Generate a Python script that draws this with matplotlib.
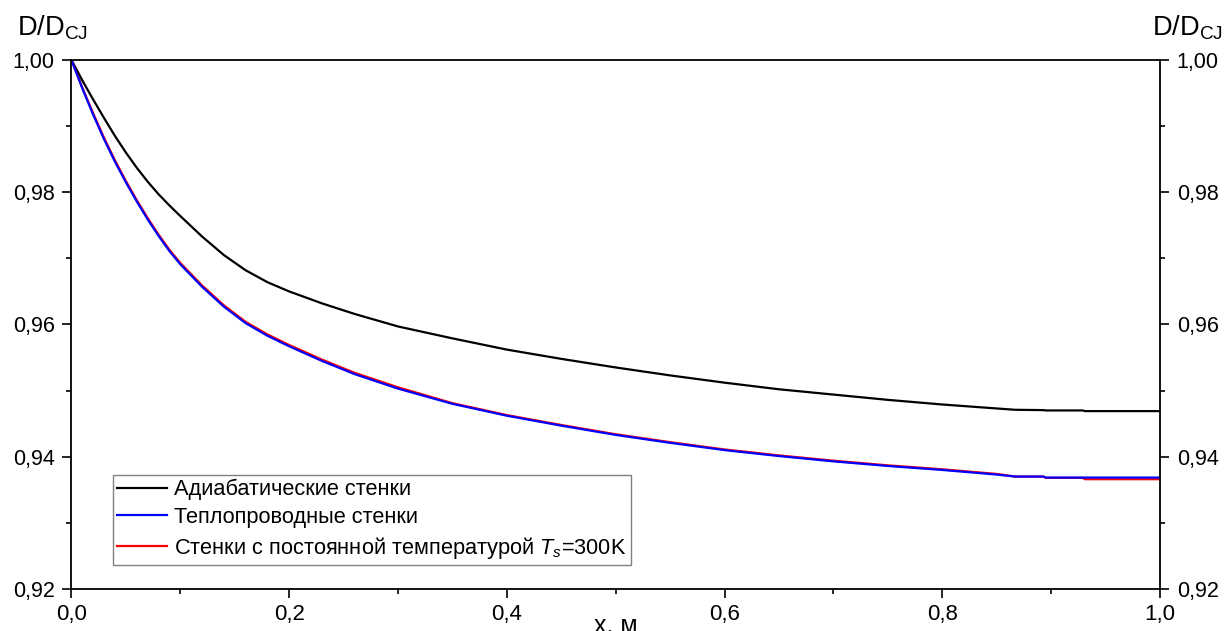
import matplotlib.pyplot as plt
from matplotlib.ticker import MultipleLocator, FuncFormatter

plt.rcParams['font.family'] = ['Liberation Sans', 'DejaVu Sans']
plt.rcParams['mathtext.fontset'] = 'custom'
plt.rcParams['mathtext.rm'] = 'Liberation Sans'
plt.rcParams['mathtext.it'] = 'Liberation Sans:italic'

# x, m
x = [0, 0.01, 0.02, 0.03, 0.04, 0.05, 0.06, 0.07, 0.08, 0.09, 0.10, 0.12,
     0.14, 0.16, 0.18, 0.20, 0.23, 0.26, 0.30, 0.35, 0.4, 0.45, 0.5, 0.55,
     0.6, 0.65, 0.7, 0.75, 0.8, 0.85, 0.867, 0.893, 0.895, 0.929, 0.931, 1.0]

adiabatic = [1.0, 0.9969, 0.9940, 0.9912, 0.9885, 0.9860, 0.9837, 0.9816,
             0.9797, 0.9780, 0.9764, 0.9733, 0.9705, 0.9682, 0.9664, 0.9650,
             0.9632, 0.9616, 0.9597, 0.9579, 0.9562, 0.9548, 0.9535, 0.9523,
             0.9512, 0.9502, 0.9494, 0.9486, 0.9479, 0.9473, 0.94710, 0.94705,
             0.94700, 0.94700, 0.94690, 0.94690]

conductive = [1.0, 0.9957, 0.9917, 0.9880, 0.9846, 0.9815, 0.9786, 0.9759,
              0.9734, 0.9711, 0.9691, 0.9657, 0.9627, 0.9602, 0.9583, 0.9567,
              0.9545, 0.9525, 0.9503, 0.9480, 0.9462, 0.9447, 0.9433, 0.9421,
              0.9410, 0.9401, 0.9393, 0.9386, 0.9380, 0.9373, 0.9370, 0.9370,
              0.93685, 0.93685, 0.93685, 0.93685]

const_temp = [1.0, 0.9958, 0.9919, 0.9882, 0.9848, 0.9817, 0.9788, 0.9761,
              0.9736, 0.9713, 0.9693, 0.9659, 0.9629, 0.9604, 0.9585, 0.9569,
              0.9547, 0.9527, 0.9505, 0.9481, 0.9463, 0.9448, 0.9434, 0.9422,
              0.9411, 0.9402, 0.9394, 0.9387, 0.9381, 0.9374, 0.9370, 0.9370,
              0.9368, 0.9368, 0.9366, 0.9366]

labels = ['Адиабатические стенки', 'Теплопроводные стенки',
          'Стенки с постоянной температурой $T_s$=300K']

fig = plt.figure(figsize=(12.26, 6.31), dpi=100)
ax = fig.add_axes([0.0583, 0.0666, 0.8879, 0.8383])

l1, = ax.plot(x, adiabatic, color='black', lw=1.6)
l3, = ax.plot(x, const_temp, color='red', lw=1.6)
l2, = ax.plot(x, conductive, color='blue', lw=1.6)

ax.set_xlim(0, 1.0)
ax.set_ylim(0.92, 1.0)

comma = FuncFormatter(lambda v, p: ('%.1f' % v).replace('.', ','))
comma2 = FuncFormatter(lambda v, p: ('%.2f' % v).replace('.', ','))
ax.xaxis.set_major_locator(MultipleLocator(0.2))
ax.xaxis.set_minor_locator(MultipleLocator(0.1))
ax.yaxis.set_major_locator(MultipleLocator(0.02))
ax.yaxis.set_minor_locator(MultipleLocator(0.01))
ax.xaxis.set_major_formatter(comma)
ax.yaxis.set_major_formatter(comma2)

ax.tick_params(which='both', direction='out', width=1.2,
               left=True, right=True, labelright=True, top=False)
ax.tick_params(which='major', length=6.5)
ax.tick_params(which='minor', length=3.6)
ax.tick_params(axis='x', which='major', labelsize=16, pad=4.3)
ax.tick_params(axis='y', which='major', labelsize=15.5, pad=5.5)
for s in ax.spines.values():
    s.set_linewidth(1.3)

fig.text(0.5025, -0.0016, 'x, м', fontsize=18, ha='center', va='baseline')
fig.text(0.014, 0.9445, 'D/D$_{\\mathrm{CJ}}$', fontsize=19.6, va='baseline')
fig.text(0.9396, 0.9445, 'D/D$_{\\mathrm{CJ}}$', fontsize=19.6, va='baseline')

leg = ax.legend([l1, l2, l3], labels, loc='lower left',
                bbox_to_anchor=(0.038, 0.045), fontsize=15.7, fancybox=False,
                edgecolor='#808080', framealpha=1, borderpad=0.2,
                labelspacing=0.31, handlelength=2.3, handletextpad=0.32,
                borderaxespad=0)
leg.get_frame().set_linewidth(1.0)

fig.savefig('out.png', dpi=100)
